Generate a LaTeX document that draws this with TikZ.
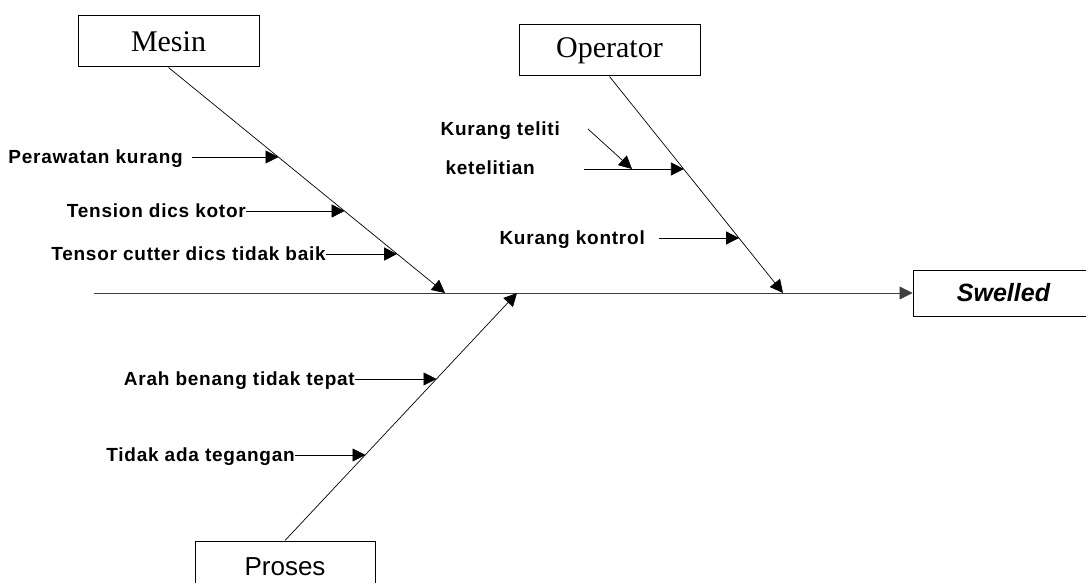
\documentclass[tikz,border=0pt]{standalone}
\usepackage{fontspec}
\setmainfont{Liberation Serif}
\newfontfamily\causefont[LetterSpace=4]{Liberation Sans}
\newfontfamily\plainsans{Liberation Sans}
\usetikzlibrary{arrows.meta,calc}

\begin{document}
\begin{tikzpicture}[x=1pt,y=-1pt,
  spine/.style={line width=0.8pt,draw=black!75},
  tip/.style={-{Triangle[length=13pt,width=13pt]}},
  cause/.style={line width=0.7pt,tip},
  catbox/.style={draw,line width=1pt,minimum width=181pt,minimum height=51pt,inner sep=0},
  lbl/.style={inner sep=0,anchor=east,text height=13.5pt,text depth=0pt,
    font=\fontsize{19}{21}\causefont\bfseries}]
\useasboundingbox (0,0) rectangle (1086,583);
\clip (0,0) rectangle (1086,583);

% category boxes and effect box
\node[catbox,font=\fontsize{30}{32}\selectfont] (mesin) at (168.5,41.5) {Mesin};
\node[catbox,font=\fontsize{30}{32}\selectfont] (oper) at (609.5,50.5) {Operator};
\node[catbox,minimum width=180pt,font=\fontsize{26}{28}\plainsans] (proses) at (285,566.5) {Proses};
\node[catbox,minimum height=46pt,font=\fontsize{25}{27}\plainsans\bfseries\itshape] (swelled) at (1003.5,293) {Swelled};

% spine
\coordinate (start) at (94,293);
\coordinate (mtip) at (445,293);
\coordinate (ptip) at (517,293);
\coordinate (otip) at (783,293);
\draw[spine,tip] (start) -- (swelled.west);

% main bones
\draw[cause] (mesin.south) -- (mtip);
\draw[cause] (oper.south) -- (otip);
\draw[cause] (proses.north) -- (ptip);

% points on the bones
\coordinate (m1) at ($(mesin.south)!0.398!(mtip)$);
\coordinate (m2) at ($(mesin.south)!0.637!(mtip)$);
\coordinate (m3) at ($(mesin.south)!0.827!(mtip)$);
\coordinate (o1) at ($(oper.south)!0.429!(otip)$);
\coordinate (o2) at ($(oper.south)!0.747!(otip)$);
\coordinate (p1) at ($(proses.north)!0.347!(ptip)$);
\coordinate (p2) at ($(proses.north)!0.653!(ptip)$);

% Mesin causes
\node[lbl] (perawatan) at (183,157) {Perawatan kurang};
\draw[cause] ([xshift=9pt]perawatan.east) -- (perawatan.east -| m1);
\node[lbl] (tension) at (246,211) {Tension dics kotor};
\draw[cause] (tension.east) -- (tension.east -| m2);
\node[lbl] (tensor) at (326,254) {Tensor cutter dics tidak baik};
\draw[cause] (tensor.east) -- (tensor.east -| m3);

% Operator causes
\node[lbl] (teliti) at (560,129) {Kurang teliti};
\node[lbl] (ketelitian) at (535,168) {ketelitian};
\coordinate (k0) at (584,169);
\draw[cause] (k0) -- (k0 -| o1);
\coordinate (kt0) at (588,129);
\coordinate (kt1) at (632,169);
\draw[cause] (kt0) -- (kt1);
\node[lbl] (kontrol) at (645,238) {Kurang kontrol};
\draw[cause] ([xshift=14pt]kontrol.east) -- (kontrol.east -| o2);

% Proses causes
\node[lbl] (arah) at (355,379) {Arah benang tidak tepat};
\draw[cause] (arah.east) -- (arah.east -| p2);
\node[lbl] (tegangan) at (295,455) {Tidak ada tegangan};
\draw[cause] (tegangan.east) -- (tegangan.east -| p1);
\end{tikzpicture}
\end{document}
